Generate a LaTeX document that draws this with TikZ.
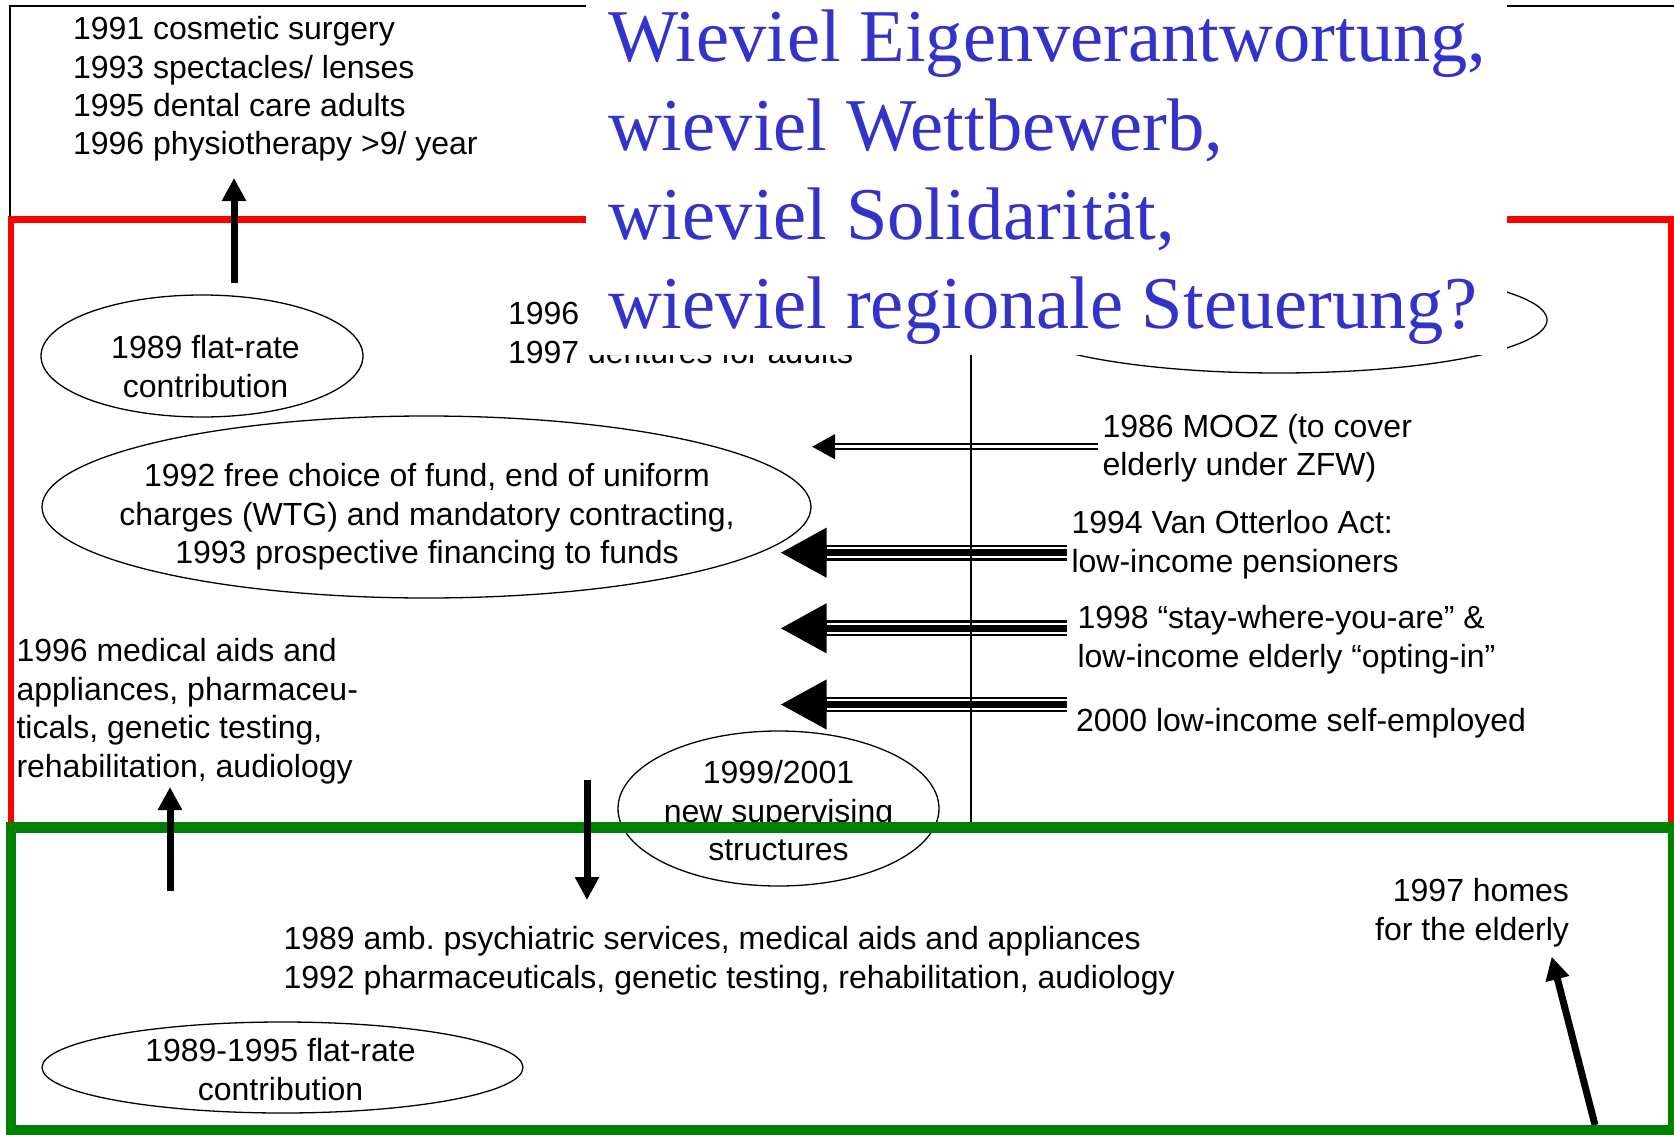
\documentclass[tikz,border=0pt]{standalone}
\usepackage{fontspec}
\setmainfont{Liberation Sans}
\newfontfamily\titlefont{Liberation Serif}
\usetikzlibrary{arrows.meta}
\definecolor{titleblue}{RGB}{51,51,204}
\definecolor{boxgreen}{RGB}{0,128,0}
\newcommand\mlines[2]{\begin{tabular}[t]{@{}#1@{}}#2\end{tabular}}
\frenchspacing
\begin{document}
\begin{tikzpicture}[x=1pt,y=-1pt,
  txt/.style={font=\fontsize{32}{38.5}\selectfont, inner sep=0pt, outer sep=0pt},
  oval/.style={line width=1.3pt},
  bigarrow/.style={line width=7pt, -{Triangle[length=23pt,width=23pt]}},
  thinline/.style={line width=1.3pt}]
\useasboundingbox (0,0) rectangle (1674,1135);

% frames
\draw[thinline] (10,222) -- (10,6) -- (1690,6);
\draw[red, line width=6.5pt] (11,219.5) rectangle (1671,827);

% ellipse hidden behind the title
\draw[oval] (1279,320) ellipse [x radius=268pt, y radius=53pt];
\node[txt, anchor=base west] (t1996) at (508,324.5) {\mlines{l}{1996\\1997 dentures for adults}};

% title
\fill[white] (586,-5) rectangle (1507,355);
\node[anchor=base west, inner sep=0pt, text=titleblue,
      font=\titlefont\fontsize{74.5}{89.3}\selectfont] (title) at (608,61)
  {\mlines{l}{Wieviel Eigenverantwortung,\\wieviel Wettbewerb,\\wieviel Solidarität,\\wieviel regionale Steuerung?}};

% top-left list
\node[txt, anchor=base west] (toplist) at (73,39.5)
  {\mlines{l}{1991 cosmetic surgery\\1993 spectacles/ lenses\\1995 dental care adults\\1996 physiotherapy >9/ year}};

% ellipses
\coordinate (e89) at (202,356);
\draw[oval] (e89) ellipse [x radius=161pt, y radius=61pt];
\node[txt, anchor=base] (t89) at (205.5,358.5) {\mlines{c}{1989 flat-rate\\contribution}};

\coordinate (e92) at (426.5,507);
\draw[oval] (e92) ellipse [x radius=384.5pt, y radius=91pt];
\node[txt, anchor=base] (t92) at (427,486.5)
  {\mlines{c}{1992 free choice of fund, end of uniform\\charges (WTG) and mandatory contracting,\\1993 prospective financing to funds}};

\coordinate (e99) at (778.5,808.5);
\draw[oval] (e99) ellipse [x radius=160.5pt, y radius=77.5pt];
\node[txt, anchor=base] (t99) at (778.5,783.5) {\mlines{c}{1999/2001\\new supervising\\structures}};

\coordinate (e8995) at (282.5,1067.5);
\draw[oval] (e8995) ellipse [x radius=240.5pt, y radius=45.5pt];
\node[txt, anchor=base] (t8995) at (280.5,1061.5) {\mlines{c}{1989-1995 flat-rate\\contribution}};

% right-hand texts
\node[txt, anchor=base west] (r86) at (1102.5,437) {\mlines{l}{1986 MOOZ (to cover\\elderly under ZFW)}};
\node[txt, anchor=base west] (r94) at (1071.5,533.5) {\mlines{l}{1994 Van Otterloo Act:\\low-income pensioners}};
\node[txt, anchor=base west] (r98) at (1077.5,628.5) {\mlines{l}{1998 “stay-where-you-are” \&\\low-income elderly “opting-in”}};
\node[txt, anchor=base west] (r00) at (1076,731.5) {2000 low-income self-employed};

% multi-line arrows
\coordinate (a1e) at (1098,446.7);   \coordinate (a1b) at (835,446.7);   \coordinate (a1t) at (811.7,446.7);
\coordinate (a2e) at (1066.7,552.7); \coordinate (a2b) at (826.7,552.7); \coordinate (a2t) at (780,552.7);
\coordinate (a3e) at (1066.7,628.3); \coordinate (a3b) at (826.7,628.3); \coordinate (a3t) at (780,628.3);
\coordinate (a4e) at (1066.7,704.5); \coordinate (a4b) at (826.7,704.5); \coordinate (a4t) at (780,704.5);

\draw[line width=7.3pt, -{Triangle[length=23.3pt,width=23.4pt]}] (a1e) -- (a1t);
\draw[white, line width=2.7pt] (a1e) -- (a1b);
\foreach \i in {2,3,4}{
  \draw[line width=15.7pt, -{Triangle[length=46.7pt,width=46.6pt]}] (a\i e) -- (a\i t);
  \draw[white, line width=11pt] (a\i e) -- (a\i b);
  \draw[line width=7pt] (a\i e) -- (a\i b);
}

% vertical divider
\coordinate (vtop) at (971,355);
\coordinate (vbot) at (971,822);
\draw[thinline] (vtop) -- (vbot);

% left texts
\node[txt, anchor=base west] (med96) at (16.5,661.5)
  {\mlines{l}{1996 medical aids and\\appliances, pharmaceu-\\ticals, genetic testing,\\rehabilitation, audiology}};
\node[txt, anchor=base west] (amb89) at (283.5,949.5)
  {\mlines{l}{1989 amb. psychiatric services, medical aids and appliances\\1992 pharmaceuticals, genetic testing, rehabilitation, audiology}};
\node[txt, anchor=base east] (homes) at (1569,901.5) {\mlines{r}{1997 homes\\for the elderly}};

% arrow to homes
\coordinate (hs) at (1595,1125);
\coordinate (ht) at (1551.7,956.7);
\draw[bigarrow] (hs) -- (ht);

% green frame
\draw[boxgreen, line width=10.5pt] (11,827.5) rectangle (1673,1130);

% vertical arrows
\coordinate (u1s) at (234,283); \coordinate (u1t) at (234,178);
\draw[bigarrow] (u1s) -- (u1t);
\coordinate (u2s) at (170,891); \coordinate (u2t) at (170,787);
\draw[bigarrow] (u2s) -- (u2t);
\coordinate (d1s) at (587,780); \coordinate (d1t) at (587,900);
\draw[bigarrow] (d1s) -- (d1t);
\end{tikzpicture}
\end{document}
